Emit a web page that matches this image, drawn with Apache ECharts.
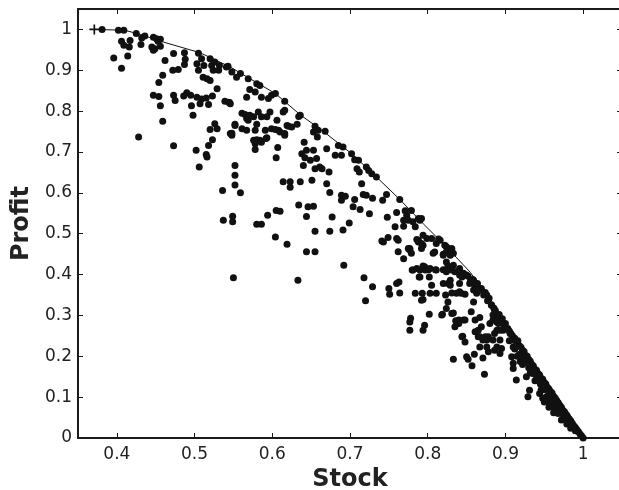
<!DOCTYPE html>
<html>
<head>
<meta charset="utf-8">
<title>Profit vs Stock</title>
<script src="https://cdn.jsdelivr.net/npm/echarts@6/dist/echarts.min.js"></script>
<style>
  html, body { margin: 0; padding: 0; background: #fff; }
  #chart { width: 619px; height: 490px; }
</style>
</head>
<body>
<div id="chart"></div>
<script>
// tick positions
var stockTicks = [0.4, 0.5, 0.6, 0.7, 0.8, 0.9, 1];
var profitTicks = [0, 0.1, 0.2, 0.3, 0.4, 0.5, 0.6, 0.7, 0.8, 0.9, 1];

// efficient frontier (line)
var frontierStock  = [0.371, 0.41, 0.43, 0.46, 0.507, 0.546, 0.569, 0.604, 0.636, 0.666, 0.702, 0.728, 0.764, 0.795, 0.826, 0.855, 0.88, 0.91, 0.94, 0.97, 1.0];
var frontierProfit = [1.0, 0.998, 0.988, 0.969, 0.943, 0.908, 0.882, 0.843, 0.791, 0.750, 0.696, 0.650, 0.584, 0.523, 0.464, 0.405, 0.337, 0.254, 0.17, 0.086, 0.0];

// start point marked with a cross
var startPoint = [[0.371, 1.0]];

// [stock, profit], grouped by region
var upperPoints = [
  [0.381,1.0],[0.402,0.998],[0.409,0.998],[0.425,0.990],[0.432,0.979],[0.436,0.984],[0.447,0.981],
  [0.451,0.977],[0.456,0.976],[0.453,0.971],[0.456,0.959],[0.445,0.957],[0.449,0.953],[0.447,0.949],
  [0.406,0.971],[0.409,0.961],[0.417,0.973],[0.416,0.957],[0.431,0.963],[0.396,0.930],[0.406,0.905],
  [0.414,0.935],[0.462,0.924],[0.459,0.888],[0.454,0.870],[0.473,0.941],[0.472,0.900],[0.479,0.902],
  [0.487,0.943],[0.488,0.927],[0.487,0.914],[0.505,0.942],[0.503,0.916],[0.509,0.928],[0.512,0.912],
  [0.505,0.900],[0.520,0.928],[0.522,0.912],[0.526,0.920],[0.524,0.900],[0.531,0.900],[0.532,0.912],
  [0.541,0.908],[0.511,0.883],[0.516,0.879],[0.520,0.875],[0.529,0.855],[0.447,0.839],[0.454,0.836],
  [0.456,0.813],[0.459,0.775],[0.473,0.839],[0.475,0.826],[0.486,0.837],[0.490,0.845],[0.495,0.839],
  [0.496,0.813],[0.498,0.790],[0.503,0.834],[0.507,0.818],[0.509,0.830],[0.515,0.832],[0.518,0.816],
  [0.523,0.837],[0.539,0.824],[0.545,0.821],[0.428,0.737],[0.520,0.755],[0.526,0.769],[0.529,0.757],
  [0.546,0.745],[0.473,0.715],[0.502,0.704],[0.506,0.663],[0.515,0.694],[0.516,0.688],[0.518,0.716],
  [0.523,0.730],[0.536,0.606],[0.537,0.533],[0.549,0.543],[0.549,0.529],[0.552,0.667],[0.552,0.643],
  [0.552,0.619],[0.559,0.600],[0.552,0.765],[0.550,0.392],
  [0.543,0.910],[0.548,0.896],[0.554,0.883],[0.559,0.892],[0.569,0.879],[0.580,0.867],[0.584,0.863],
  [0.571,0.853],[0.578,0.847],[0.567,0.834],[0.586,0.834],[0.595,0.831],[0.599,0.839],[0.604,0.843],
  [0.616,0.824],[0.614,0.798],[0.616,0.802],[0.544,0.822],[0.546,0.818],[0.561,0.795],[0.565,0.792],
  [0.567,0.782],[0.571,0.790],[0.569,0.778],[0.576,0.786],[0.582,0.798],[0.586,0.786],[0.593,0.786],
  [0.597,0.798],[0.606,0.778],[0.591,0.753],[0.599,0.757],[0.604,0.755],[0.608,0.753],[0.610,0.749],
  [0.619,0.765],[0.621,0.763],[0.625,0.761],[0.632,0.768],[0.634,0.787],[0.616,0.745],[0.552,0.768],
  [0.548,0.746],[0.561,0.757],[0.567,0.753],[0.578,0.753],[0.580,0.768],[0.576,0.729],[0.580,0.730],
  [0.584,0.729],[0.586,0.724],[0.578,0.706],[0.593,0.735],[0.607,0.711],[0.605,0.686],[0.578,0.720],
  [0.592,0.733],[0.548,0.741],[0.616,0.741]
];

var middlePoints = [
  [0.636,0.790],[0.655,0.763],[0.653,0.749],[0.659,0.753],[0.668,0.751],[0.658,0.737],[0.641,0.724],
  [0.638,0.696],[0.644,0.704],[0.642,0.686],[0.649,0.680],[0.653,0.704],[0.657,0.684],[0.661,0.663],
  [0.655,0.659],[0.664,0.659],[0.640,0.667],[0.670,0.708],[0.685,0.716],[0.691,0.712],[0.681,0.692],
  [0.689,0.692],[0.702,0.696],[0.711,0.680],[0.709,0.659],[0.721,0.663],[0.728,0.647],[0.673,0.651],
  [0.706,0.681],[0.712,0.651],[0.724,0.655],[0.734,0.639],[0.636,0.627],[0.651,0.631],[0.670,0.622],
  [0.674,0.601],[0.715,0.622],[0.689,0.594],[0.689,0.582],[0.694,0.592],[0.717,0.596],[0.721,0.594],
  [0.729,0.587],[0.706,0.584],[0.704,0.566],[0.713,0.559],[0.725,0.549],[0.634,0.570],[0.646,0.566],
  [0.653,0.567],[0.644,0.542],[0.677,0.541],[0.655,0.506],[0.674,0.506],[0.691,0.509],[0.699,0.526],
  [0.614,0.627],[0.623,0.627],[0.623,0.614],[0.605,0.557],[0.610,0.555],[0.594,0.545],[0.580,0.523],
  [0.586,0.523],[0.604,0.492],[0.619,0.474],[0.644,0.456],[0.655,0.456],[0.633,0.386],[0.692,0.423],
  [0.742,0.582],[0.747,0.596],[0.748,0.540],[0.741,0.482],[0.749,0.491],[0.760,0.488],[0.762,0.484],
  [0.764,0.584],[0.760,0.552],[0.771,0.556],[0.773,0.545],[0.769,0.533],[0.775,0.533],[0.758,0.517],
  [0.769,0.518],[0.781,0.529],[0.784,0.517],[0.790,0.533],[0.779,0.557],[0.794,0.496],[0.786,0.486],
  [0.788,0.480],[0.794,0.472],[0.805,0.488],[0.814,0.487],[0.822,0.472],[0.826,0.464],[0.777,0.464],
  [0.792,0.464],[0.788,0.537],[0.792,0.537]
];

var lowerPoints = [
  [0.743,0.480],[0.762,0.456],[0.769,0.439],[0.777,0.460],[0.750,0.366],[0.751,0.352],[0.760,0.378],
  [0.763,0.382],[0.764,0.355],[0.777,0.284],[0.778,0.293],[0.777,0.264],[0.784,0.354],[0.793,0.354],
  [0.794,0.339],[0.796,0.276],[0.794,0.264],[0.780,0.411],[0.786,0.415],[0.790,0.411],[0.796,0.419],
  [0.801,0.412],[0.802,0.394],[0.789,0.394],[0.802,0.303],[0.811,0.354],[0.811,0.411],[0.779,0.452],
  [0.807,0.452],[0.820,0.450],[0.824,0.468],[0.829,0.452],[0.819,0.303],[0.824,0.317],[0.826,0.333],
  [0.823,0.350],[0.833,0.306],[0.820,0.412],[0.824,0.407],[0.833,0.423],[0.835,0.407],[0.841,0.415],
  [0.846,0.403],[0.826,0.378],[0.831,0.355],[0.837,0.354],[0.843,0.354],[0.848,0.352],[0.841,0.378],
  [0.844,0.394],[0.850,0.399],[0.836,0.287],[0.838,0.280],[0.846,0.289],[0.845,0.249],[0.833,0.193],
  [0.852,0.193],[0.857,0.177],[0.860,0.205],[0.871,0.196],[0.873,0.156],[0.718,0.392],[0.720,0.336],
  [0.729,0.370],[0.775,0.464],[0.788,0.484],[0.792,0.476],[0.799,0.488],[0.811,0.476],[0.816,0.484],
  [0.809,0.455],[0.824,0.455],[0.829,0.447],[0.833,0.452],[0.831,0.464],[0.781,0.411],[0.794,0.421],
  [0.797,0.411],[0.803,0.415],[0.810,0.412],[0.826,0.421],[0.831,0.411],[0.790,0.394],[0.805,0.374],
  [0.803,0.354],[0.792,0.337],[0.820,0.378],[0.829,0.386],[0.829,0.374],[0.841,0.358],[0.831,0.305],
  [0.818,0.301],[0.840,0.289],[0.848,0.289],[0.835,0.272],[0.840,0.280],[0.844,0.248],[0.848,0.235],
  [0.850,0.199],[0.820,0.447],[0.824,0.431],[0.841,0.399],[0.854,0.378],[0.859,0.386],[0.863,0.374],
  [0.859,0.333],[0.856,0.309],[0.861,0.289],[0.867,0.295],[0.865,0.264],[0.869,0.272],[0.871,0.240],
  [0.876,0.223],[0.878,0.248],[0.859,0.362],[0.863,0.354],[0.869,0.362],[0.876,0.350],[0.878,0.337],
  [0.882,0.325],[0.886,0.313],[0.884,0.289],[0.880,0.280],[0.889,0.284],[0.893,0.264],[0.897,0.264],
  [0.889,0.223],[0.895,0.219],[0.884,0.240],[0.906,0.256],[0.910,0.240],[0.910,0.223],[0.919,0.199],
  [0.914,0.142],[0.927,0.150],[0.929,0.101],[0.944,0.109],[0.931,0.117],[0.865,0.248],[0.867,0.223],
  [0.878,0.211],[0.886,0.215],[0.893,0.207],[0.889,0.264],[0.893,0.240],[0.874,0.248],[0.886,0.256],
  [0.884,0.301],[0.891,0.280],[0.861,0.260],[0.867,0.248],[0.876,0.240],[0.908,0.199],[0.910,0.183],
  [0.910,0.170],[0.919,0.187],[0.923,0.195],[0.948,0.097],[0.953,0.093],[0.957,0.085],[0.966,0.077],
  [0.972,0.044],[0.970,0.070]
];

var bandPoints = [
  [0.852,0.396],[0.855,0.384],[0.858,0.388],[0.861,0.372],[0.864,0.378],[0.866,0.362],[0.869,0.366],
  [0.872,0.350],[0.874,0.356],[0.877,0.336],[0.879,0.342],[0.882,0.326],[0.885,0.318],[0.887,0.312],
  [0.889,0.300],[0.892,0.302],[0.894,0.290],[0.896,0.292],[0.898,0.278],[0.900,0.280],[0.903,0.268],
  [0.905,0.262],[0.907,0.256],[0.909,0.250],[0.912,0.244],[0.914,0.236],[0.916,0.238],[0.918,0.226],
  [0.920,0.222],[0.922,0.215],[0.924,0.212],[0.926,0.202],[0.928,0.200],[0.930,0.192],[0.932,0.188],
  [0.934,0.180],[0.936,0.176],[0.938,0.168],[0.940,0.166],[0.942,0.158],[0.944,0.154],[0.946,0.146],
  [0.948,0.144],[0.950,0.136],[0.952,0.132],[0.954,0.124],[0.956,0.120],[0.958,0.114],[0.960,0.110],
  [0.962,0.102],[0.964,0.098],[0.966,0.092],[0.968,0.086],[0.970,0.080],[0.972,0.075],[0.974,0.068],
  [0.976,0.064],[0.978,0.058],[0.980,0.052],[0.982,0.047],[0.984,0.042],[0.986,0.036],[0.988,0.030],
  [0.990,0.026],[0.992,0.020],[0.994,0.015],[0.996,0.010],[0.998,0.005],[1.000,0.000],
  [0.905,0.238],[0.912,0.218],[0.918,0.205],[0.925,0.185],[0.930,0.172],[0.935,0.158],[0.940,0.145],
  [0.945,0.132],[0.950,0.118],[0.955,0.104],[0.960,0.092],[0.965,0.080],[0.975,0.054],[0.980,0.042],
  [0.985,0.030],[0.990,0.018],[0.915,0.200],[0.922,0.180],[0.932,0.160],[0.938,0.140],[0.946,0.118],
  [0.952,0.100],[0.958,0.086],[0.963,0.072],[0.968,0.060],[0.974,0.046],[0.979,0.034],[0.984,0.024],
  [0.950,0.088],[0.956,0.075],[0.962,0.062],[0.979,0.055]
];

var frontierData = frontierStock.map(function(s, i) { return [s, frontierProfit[i]]; });
var allPoints = upperPoints.concat(middlePoints, lowerPoints, bandPoints);

var textColor = '#222';
var lineColor = '#1a1a1a';
var fontName = 'DejaVu Sans';

function fmt(v) {
	return String(+v.toFixed(2));
}

// top / right frame: ticks only, no labels
function frameAxis(pos, ticks, min, max, showLine) {
	return {
		type: 'value',
		position: pos,
		min: min,
		max: max,
		axisLine: { show: showLine, onZero: false, lineStyle: { color: lineColor, width: 2 } },
		axisTick: { show: true, inside: true, length: 5, customValues: ticks, lineStyle: { color: lineColor, width: 1 } },
		axisLabel: { show: false },
		splitLine: { show: false }
	};
}

var chart = echarts.init(document.getElementById('chart'));
var option = {
	animation: false,
	backgroundColor: '#fff',
	// keep the plot box fixed, the right edge sits just outside the picture
	grid: { left: 78, right: -3, top: 9, bottom: 52, outerBoundsMode: 'none', containLabel: false },
	xAxis: [{
		type: 'value',
		position: 'bottom',
		min: 0.35,
		max: 1.05,
		name: 'Stock',
		nameLocation: 'middle',
		nameGap: 29,
		nameTextStyle: { fontSize: 24, fontWeight: 'bold', color: textColor, fontFamily: fontName },
		axisLine: { show: true, onZero: false, lineStyle: { color: lineColor, width: 2 } },
		axisTick: { show: true, inside: true, length: 5, customValues: stockTicks, lineStyle: { color: lineColor, width: 1 } },
		axisLabel: { customValues: stockTicks, formatter: fmt, fontSize: 17, color: textColor, margin: 8, fontFamily: fontName },
		splitLine: { show: false }
	}, frameAxis('top', stockTicks, 0.35, 1.05, true)],
	yAxis: [{
		type: 'value',
		position: 'left',
		min: 0,
		max: 1.05,
		name: 'Profit',
		nameLocation: 'middle',
		nameGap: 33,
		nameTextStyle: { fontSize: 24, fontWeight: 'bold', color: textColor, fontFamily: fontName },
		axisLine: { show: true, onZero: false, lineStyle: { color: lineColor, width: 2 } },
		axisTick: { show: true, inside: true, length: 5, customValues: profitTicks, lineStyle: { color: lineColor, width: 1 } },
		axisLabel: { customValues: profitTicks, formatter: fmt, fontSize: 17, color: textColor, margin: 6, fontFamily: fontName },
		splitLine: { show: false }
	}, frameAxis('right', profitTicks, 0, 1.05, false)],
	series: [{
		type: 'scatter',
		data: allPoints,
		symbol: 'circle',
		symbolSize: 7,
		itemStyle: { color: '#111', opacity: 1 },
		z: 2
	}, {
		type: 'line',
		data: frontierData,
		symbol: 'none',
		lineStyle: { color: '#111', width: 1 },
		z: 3
	}, {
		type: 'scatter',
		data: startPoint,
		symbol: 'path://M-1,-6H1V-1H6V1H1V6H-1V1H-6V-1H-1Z',
		symbolSize: 10,
		itemStyle: { color: '#111', opacity: 1 },
		z: 4
	}]
};
chart.setOption(option);
</script>
</body>
</html>
